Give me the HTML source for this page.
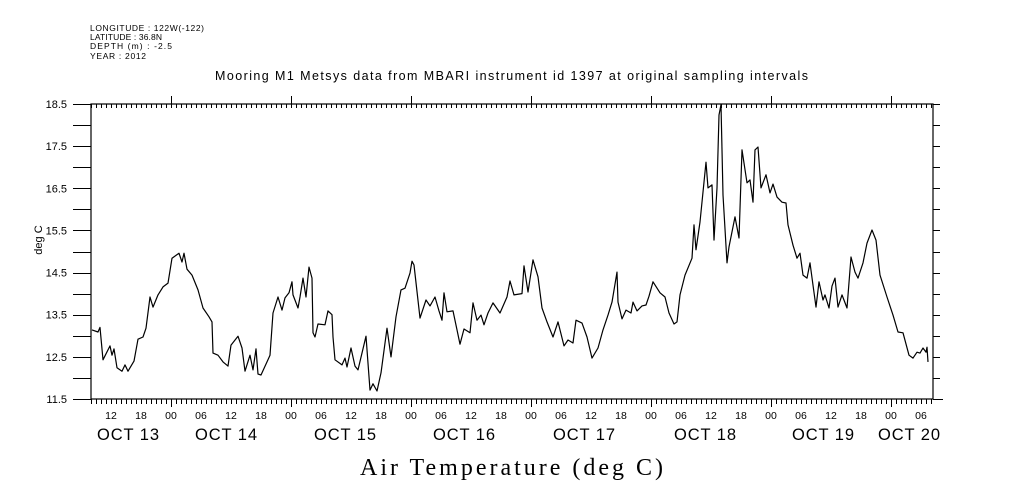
<!DOCTYPE html>
<html><head><meta charset="utf-8"><style>
html,body{margin:0;padding:0;background:#fff;}
svg{display:block;}
text{font-family:"Liberation Sans",sans-serif;fill:#000;}
</style></head>
<body>
<svg id="chart" width="1009" height="504" viewBox="0 0 1009 504">
 <g font-size="8.5">
  <text x="90" y="31" textLength="114">LONGITUDE : 122W(-122)</text>
  <text x="90" y="40" textLength="72">LATITUDE : 36.8N</text>
  <text x="90" y="49" textLength="82">DEPTH (m) : -2.5</text>
  <text x="90" y="59" textLength="56">YEAR : 2012</text>
 </g>
 <text x="215" y="80" font-size="12.5" textLength="593">Mooring M1 Metsys data from MBARI instrument id 1397 at original sampling intervals</text>
 <text x="42" y="240" font-size="11" text-anchor="middle" transform="rotate(-90 42 240)">deg C</text>
 <text x="360" y="475" font-size="24" textLength="303" style="font-family:'Liberation Serif',serif">Air Temperature (deg C)</text>
 <g id="axes"></g>
 <g id="series"></g>
</svg>
<script>
const hours=[0.2,1.4,1.8,2.4,3.8,4.2,4.6,5.2,6.2,6.8,7.4,8.6,9.4,10.4,11,11.8,12.4,13.4,14.4,15.4,16.2,17.6,18.2,18.6,19.2,20.2,21.4,22.4,23.6,24.2,24.4,25.4,26.4,27.4,28,29.4,30.2,30.8,31.8,32.4,33,33.4,34,35.2,35.8,36.4,37.4,38.2,38.8,39.6,40.2,40.4,41.4,41.8,42.4,43,43.6,44.2,44.4,44.8,45.4,46.8,47.4,48.2,48.4,48.8,50.2,50.8,51.2,52,52.8,53.4,
55,55.8,56.4,57.2,58,59.2,60,61,62,62.8,63.8,64.2,64.6,65.8,67,67.8,68.8,69.6,70.2,70.6,71.2,72.4,73.2,73.8,74.6,75.8,76.4,77.2,78,78.6,79.4,80.4,81.8,83.2,83.8,84.6,86.2,86.6,87.4,88.4,89.4,90.2,91.2,92.4,93.4,94.6,95.4,96.4,97,98.2,99.2,100.2,101.4,102.4,103.4,104.2,105.2,105.4,106.2,107,108,108.4,109.2,110.2,111,111.6,
112.4,113.8,114.8,115.6,116.6,117.2,117.8,118.8,120.2,120.6,121,121.8,122.4,123,123.4,124.2,124.6,125.2,125.6,126,126.4,127.2,127.6,128.8,129.6,130.2,131.2,131.8,132.4,132.8,133.4,134,135,135.8,136.4,137.2,138.2,139,139.4,140.4,141.2,141.8,142.4,143.2,143.8,144.4,145,145.6,146.4,146.8,147.6,148.2,148.8,149.4,150.2,151.2,152,152.8,153.4,154.4,155.2,156.2,157,157.8,159.2,160.4,161.4,162.4,163.6,164.4,165.2,165.8,166.4,167,167.2,167.4];
const temps=[13.14,13.09,13.2,12.43,12.76,12.54,12.69,12.24,12.16,12.31,12.16,12.4,12.92,12.97,13.18,13.92,13.68,13.97,14.16,14.25,14.84,14.96,14.75,14.96,14.58,14.44,14.09,13.66,13.45,13.33,12.59,12.54,12.38,12.28,12.78,12.99,12.71,12.16,12.54,12.19,12.69,12.09,12.07,12.38,12.54,13.54,13.92,13.61,13.9,14.02,14.28,13.97,13.66,13.92,14.37,13.92,14.63,14.37,13.07,12.97,13.28,13.26,13.59,13.5,12.97,12.43,12.31,12.47,12.26,12.71,12.28,12.19,
12.99,11.71,11.86,11.69,12.12,13.18,12.5,13.45,14.09,14.13,14.49,14.77,14.68,13.42,13.85,13.71,13.92,13.59,13.37,14.02,13.57,13.59,13.14,12.8,13.16,13.07,13.78,13.37,13.49,13.26,13.54,13.78,13.54,13.92,14.3,13.97,14.0,14.66,14.04,14.8,14.4,13.66,13.33,12.97,13.33,12.76,12.9,12.83,13.37,13.3,12.97,12.47,12.71,13.14,13.49,13.8,14.51,13.8,13.4,13.61,13.54,13.8,13.59,13.71,13.73,13.94,
14.28,14.02,13.92,13.54,13.28,13.33,13.97,14.44,14.84,15.63,15.04,15.7,16.41,17.12,16.51,16.58,15.27,16.51,18.24,18.48,16.34,14.73,15.11,15.82,15.32,17.41,16.63,16.7,16.17,17.41,17.48,16.51,16.82,16.39,16.6,16.29,16.17,16.15,15.63,15.15,14.84,14.96,14.44,14.37,14.73,14.2,13.68,14.28,13.85,13.97,13.66,14.18,14.37,13.68,13.97,13.66,14.87,14.51,14.37,14.73,15.2,15.51,15.27,14.44,13.92,13.49,13.09,13.07,12.54,12.47,12.61,12.59,12.71,12.61,12.73,12.38];
const yTickLabels=["18.5","17.5","16.5","15.5","14.5","13.5","12.5","11.5"];
const hourLabels=["12","18","00","06"];
const dayLabels=["OCT 13","OCT 14","OCT 15","OCT 16","OCT 17","OCT 18","OCT 19","OCT 20"];
const dayLabelHours=[7.4,27,50.8,74.6,98.6,122.8,146.4,163.6];

const X0=91,X1=933,Y0=104,Y1=399,YMAX=18.5,YMIN=11.5,PXH=5;
const sx=h=>X0+h*PXH;
const sy=v=>Y0+(YMAX-v)*(Y1-Y0)/(YMAX-YMIN);
const NS="http://www.w3.org/2000/svg";
const axes=document.getElementById('axes');
function mk(tag,attrs,parent){const e=document.createElementNS(NS,tag);for(const k in attrs)e.setAttribute(k,attrs[k]);parent.appendChild(e);return e;}

const frame=mk('rect',{x:X0,y:Y0,width:X1-X0,height:Y1-Y0,fill:'none',stroke:'#000','stroke-width':1.2},axes);



for(let v=YMIN;v<=YMAX+1e-6;v+=0.5){
  const y=Math.round(sy(v))+0.5;
  const t=mk('line',{x1:73,y1:y,x2:X0,y2:y,stroke:'#000','stroke-width':1},axes);
  
  
  const r=mk('line',{x1:X1,y1:y,x2:940,y2:y,stroke:'#000','stroke-width':1},axes);
  
  
}
yTickLabels.forEach(s=>{
  const v=parseFloat(s);
  const t=mk('text',{x:67,y:sy(v)+4,'font-size':11,'text-anchor':'end'},axes);
  t.textContent=s;
  
  
});
for(let h=0;h<=168;h++){
  const x=Math.round(sx(h))+0.5;
  const major=((h+8)%24===0);
  const b=mk('line',{x1:x,y1:Y1,x2:x,y2:Y1+(major?8:5),stroke:'#000','stroke-width':1},axes);
  
  
  const tp=mk('line',{x1:x,y1:major?Y0-8:Y0,x2:x,y2:Y0+4,stroke:'#000','stroke-width':1},axes);
  
  
}
mk('line',{x1:X1,y1:Y1+0.5,x2:943,y2:Y1+0.5,stroke:'#000'},axes);
for(let h=4,i=0;h<=168;h+=6,i++){
  const t=mk('text',{x:sx(h),y:419,'font-size':10.5,'text-anchor':'middle'},axes);
  t.textContent=hourLabels[i%4];
  
  
}
dayLabels.forEach((s,i)=>{
  const t=mk('text',{x:sx(dayLabelHours[i]),y:440,'font-size':16.5,'text-anchor':'middle','textLength':62},axes);
  t.textContent=s;
  
  
});
const d=hours.map((h,i)=>(i?'L':'M')+sx(h).toFixed(1)+' '+sy(temps[i]).toFixed(1)).join(' ');
const p=mk('path',{d:d,fill:'none',stroke:'#000','stroke-width':1.2,'stroke-linejoin':'round'},document.getElementById('series'));


</script>
</body></html>
